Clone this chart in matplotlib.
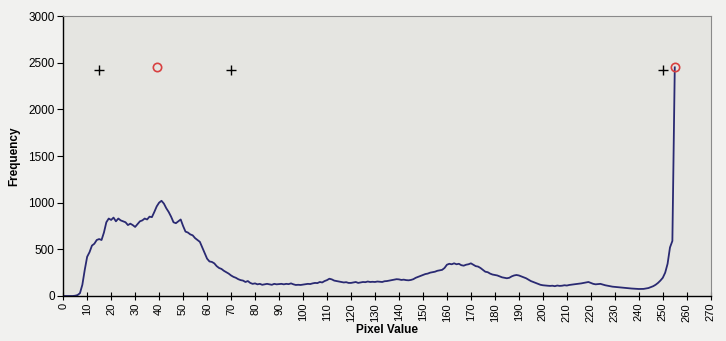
import numpy as np
import matplotlib
matplotlib.use('Agg')
from matplotlib import pyplot as plt

plt.rcParams['font.family'] = ['Liberation Sans', 'DejaVu Sans']

# histogram counts for pixel values 0..255
counts = [
    0, 0, 0, 0, 0, 3, 10, 30, 120, 280,
    420, 470, 540, 560, 600, 610, 600, 680, 790, 830,
    815, 840, 800, 830, 810, 800, 790, 760, 775, 760,
    740, 770, 800, 810, 830, 820, 850, 845, 900, 960,
    1000, 1020, 990, 940, 900, 850, 790, 780, 800, 820,
    750, 690, 680, 660, 650, 620, 600, 580, 520, 460,
    400, 370, 365, 350, 320, 300, 290, 270, 255, 240,
    220, 205, 195, 180, 170, 165, 150, 160, 140, 130,
    135, 125, 130, 120, 125, 130, 125, 120, 130, 125,
    128, 130, 125, 130, 127, 135, 125, 118, 120, 118,
    122, 125, 130, 128, 135, 140, 138, 150, 145, 160,
    170, 185, 178, 165, 160, 155, 150, 145, 148, 140,
    140, 145, 150, 140, 145, 150, 148, 155, 150, 152,
    150, 155, 152, 150, 158, 160, 165, 170, 175, 180,
    178, 172, 175, 170, 168, 172, 180, 195, 205, 215,
    225, 235, 240, 250, 255, 260, 270, 275, 280, 300,
    335, 345, 340, 350, 340, 345, 330, 325, 335, 340,
    350, 335, 320, 315, 300, 280, 260, 255, 240, 230,
    225, 220, 210, 200, 195, 190, 195, 210, 220, 225,
    220, 210, 200, 190, 175, 160, 150, 140, 130, 120,
    115, 112, 110, 108, 110, 105, 112, 108, 110, 115,
    112, 118, 122, 125, 128, 130, 135, 140, 145, 150,
    140, 130, 125, 128, 130, 122, 115, 110, 105, 100,
    98, 95, 92, 90, 88, 85, 82, 80, 78, 76,
    75, 75, 76, 80, 85, 95, 105, 120, 140, 165,
    195, 250, 345, 520, 590, 2450,
]
pixel_values = np.arange(len(counts))

# marker positions
plus_x = [15, 70, 250]
plus_y = [2420, 2420, 2420]
circle_x = [39, 255]
circle_y = [2450, 2450]

fig = plt.figure(figsize=(7.26, 3.41), dpi=100, facecolor='#f1f1ef')
ax = fig.add_axes([0.087, 0.132, 0.892, 0.821])
ax.set_facecolor('#e5e5e1')

ax.plot(pixel_values, counts, color='#2a2a72', lw=1.3)
ax.plot(plus_x, plus_y, '+', color='black', ms=7, mew=1.0)
ax.plot(circle_x, circle_y, 'o', mfc='none', mec='#d84040', ms=6, mew=1.2)

ax.set_xlim(0, 270)
ax.set_ylim(0, 3000)
ax.set_xticks(np.arange(0, 271, 10))
ax.set_yticks(np.arange(0, 3001, 500))
ax.tick_params(axis='x', direction='inout', length=6, labelsize=8, labelrotation=90, pad=2)
ax.tick_params(axis='y', direction='out', length=4, labelsize=8.5, pad=2)

for side in ['top', 'right']:
    ax.spines[side].set_color('#8a8a8a')
for side in ['left', 'bottom']:
    ax.spines[side].set_color('black')
    ax.spines[side].set_linewidth(1.0)

ax.set_xlabel('Pixel Value', fontsize=8.5, fontweight='bold', labelpad=2)
ax.set_ylabel('Frequency', fontsize=8.5, fontweight='bold', labelpad=6)

plt.savefig('out.png', dpi=100, facecolor=fig.get_facecolor())
